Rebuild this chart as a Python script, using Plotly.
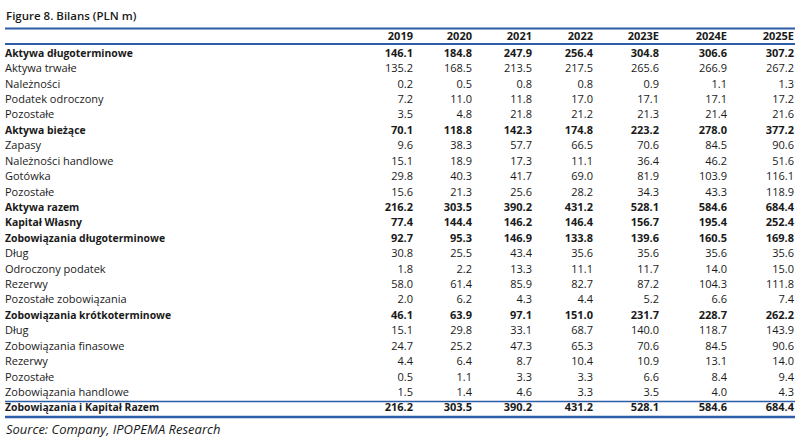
import plotly.graph_objects as go

title_text = "Figure 8. Bilans (PLN m)"
source_text = "Source: Company, IPOPEMA Research"
years = ["2019", "2020", "2021", "2022", "2023E", "2024E", "2025E"]

row_labels = [
    "Aktywa długoterminowe", "Aktywa trwałe", "Należności", "Podatek odroczony", "Pozostałe",
    "Aktywa bieżące", "Zapasy", "Należności handlowe", "Gotówka", "Pozostałe",
    "Aktywa razem", "Kapitał Własny", "Zobowiązania długoterminowe", "Dług",
    "Odroczony podatek", "Rezerwy", "Pozostałe zobowiązania", "Zobowiązania krótkoterminowe",
    "Dług", "Zobowiązania finasowe", "Rezerwy", "Pozostałe", "Zobowiązania handlowe",
    "Zobowiązania i Kapitał Razem",
]
bold_rows = [1, 0, 0, 0, 0, 1, 0, 0, 0, 0, 1, 1, 1, 0, 0, 0, 0, 1, 0, 0, 0, 0, 0, 1]

v2019 = [146.1, 135.2, 0.2, 7.2, 3.5, 70.1, 9.6, 15.1, 29.8, 15.6, 216.2, 77.4, 92.7, 30.8, 1.8, 58.0, 2.0, 46.1, 15.1, 24.7, 4.4, 0.5, 1.5, 216.2]
v2020 = [184.8, 168.5, 0.5, 11.0, 4.8, 118.8, 38.3, 18.9, 40.3, 21.3, 303.5, 144.4, 95.3, 25.5, 2.2, 61.4, 6.2, 63.9, 29.8, 25.2, 6.4, 1.1, 1.4, 303.5]
v2021 = [247.9, 213.5, 0.8, 11.8, 21.8, 142.3, 57.7, 17.3, 41.7, 25.6, 390.2, 146.2, 146.9, 43.4, 13.3, 85.9, 4.3, 97.1, 33.1, 47.3, 8.7, 3.3, 4.6, 390.2]
v2022 = [256.4, 217.5, 0.8, 17.0, 21.2, 174.8, 66.5, 11.1, 69.0, 28.2, 431.2, 146.4, 133.8, 35.6, 11.1, 82.7, 4.4, 151.0, 68.7, 65.3, 10.4, 3.3, 3.3, 431.2]
v2023E = [304.8, 265.6, 0.9, 17.1, 21.3, 223.2, 70.6, 36.4, 81.9, 34.3, 528.1, 156.7, 139.6, 35.6, 11.7, 87.2, 5.2, 231.7, 140.0, 70.6, 10.9, 6.6, 3.5, 528.1]
v2024E = [306.6, 266.9, 1.1, 17.1, 21.4, 278.0, 84.5, 46.2, 103.9, 43.3, 584.6, 195.4, 160.5, 35.6, 14.0, 104.3, 6.6, 228.7, 118.7, 84.5, 13.1, 8.4, 4.0, 584.6]
v2025E = [307.2, 267.2, 1.3, 17.2, 21.6, 377.2, 90.6, 51.6, 116.1, 118.9, 684.4, 252.4, 169.8, 35.6, 15.0, 111.8, 7.4, 262.2, 143.9, 90.6, 14.0, 9.4, 4.3, 684.4]

# ---- layout / style constants ----
W, H = 800, 442
BLUE = "#2b5ea7"
TXT = "#1a1a1a"
FONT = "Open Sans"
FS = 11
ROW0_PX, ROW_STEP = 54.0, 15.42         # pixel centre of first row, row pitch
HEADER_PX = 37.0
LABEL_X = 5
COL_RIGHT = [413, 472, 532, 593, 659, 727, 794]

year_cols = [v2019, v2020, v2021, v2022, v2023E, v2024E, v2025E]
rows = list(range(len(row_labels)))
header_row = -(ROW0_PX - HEADER_PX) / ROW_STEP

fig = go.Figure()

def add_text(xs, ys, texts, pos, weight, size=FS):
    fig.add_trace(go.Scatter(
        x=xs, y=ys, text=texts, mode="text", textposition=pos,
        textfont=dict(family=FONT, size=size, color=TXT, weight=weight),
        hoverinfo="skip", showlegend=False, cliponaxis=False))

# row labels
for b, w, s in [(0, 400, FS), (1, 700, 10.4)]:
    idx = [i for i in rows if bold_rows[i] == b]
    add_text([LABEL_X] * len(idx), idx, [row_labels[i] for i in idx], "middle right", w, s)

# year columns
for cx, yr, col in zip(COL_RIGHT, years, year_cols):
    add_text([cx], [header_row], [yr], "middle left", 700)
    for b, w in [(0, 400), (1, 700)]:
        idx = [i for i in rows if bold_rows[i] == b]
        add_text([cx] * len(idx), idx, [f"{col[i]:.1f}" for i in idx], "middle left", w)

def py(px):
    return 1 - px / H

for ypx, w in [(28.5, 2), (44, 2), (401.5, 1.5), (417, 2.5)]:
    fig.add_shape(type="line", xref="paper", yref="paper", x0=5 / W, x1=795 / W,
                  y0=py(ypx), y1=py(ypx), line=dict(color=BLUE, width=w))

fig.add_annotation(text=title_text, xref="paper", yref="paper", x=4 / W, y=py(15.5),
                   xanchor="left", yanchor="middle", showarrow=False,
                   font=dict(family=FONT, size=11.5, color=TXT, weight=600))
fig.add_annotation(text=source_text, xref="paper", yref="paper", x=4 / W, y=py(429),
                   xanchor="left", yanchor="middle", showarrow=False,
                   font=dict(family=FONT, size=13, color=TXT, style="italic"))

fig.update_layout(
    width=W, height=H, margin=dict(l=0, r=0, t=0, b=0),
    paper_bgcolor="white", plot_bgcolor="white",
    xaxis=dict(range=[0, W], visible=False, fixedrange=True),
    yaxis=dict(range=[(H - ROW0_PX) / ROW_STEP, -ROW0_PX / ROW_STEP],
               visible=False, fixedrange=True),
)
fig.write_html("out.html", config={"displayModeBar": False},
               post_script="document.body.style.margin='0';document.body.style.overflow='hidden';")
